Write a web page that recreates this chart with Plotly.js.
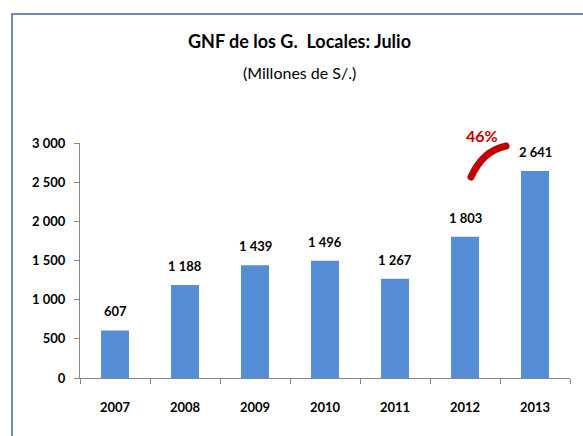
<!DOCTYPE html>
<html>
<head>
<meta charset="utf-8">
<script src="https://cdn.plot.ly/plotly-3.0.1.min.js"></script>
<style>html,body{margin:0;padding:0;background:#fff;}#chart{width:583px;height:436px;}</style>
</head>
<body>
<div id="chart"></div>
<script>
const years = ['2007', '2008', '2009', '2010', '2011', '2012', '2013'];
const values = [607, 1188, 1439, 1496, 1267, 1803, 2641];
const yTicks = [0, 500, 1000, 1500, 2000, 2500, 3000];
const growthLabel = '46%';
const titleText = 'GNF de los G.  Locales: Julio';
const subtitleText = '(Millones de S/.)';

const FONT = 'Lato, "Liberation Sans Narrow", sans-serif';

function fmt(v) {
  if (v >= 1000) return Math.floor(v / 1000) + ' ' + String(v % 1000).padStart(3, '0');
  return String(v);
}

const trace = {
  type: 'bar',
  x: years,
  y: values,
  marker: {color: '#558ED5'},
  hoverinfo: 'x+y'
};

const labelAnns = years.map((yr, i) => ({
  x: i, y: values[i], xref: 'x', yref: 'y',
  text: '<b>' + fmt(values[i]) + '</b>',
  showarrow: false, yanchor: 'middle', yshift: 19,
  font: {family: FONT, size: 13, color: '#000'}
}));

const layout = {
  width: 583, height: 436,
  margin: {l: 80, r: 13, t: 143, b: 58},
  paper_bgcolor: '#fff', plot_bgcolor: '#fff',
  showlegend: false,
  bargap: 0.6,
  font: {family: FONT, size: 13, color: '#000'},
  xaxis: {
    type: 'category',
    range: [-0.5, years.length - 0.5],
    autorange: false,
    showline: true, linecolor: '#868686', linewidth: 1,
    ticks: 'outside', ticklen: 5, tickcolor: '#868686', tickson: 'boundaries',
    tickfont: {family: FONT, size: 13, color: '#000', weight: 'bold'},
    ticklabelstandoff: 17,
    showgrid: false, zeroline: false
  },
  yaxis: {
    range: [0, 3000],
    autorange: false,
    tickvals: yTicks,
    ticktext: yTicks.map(fmt),
    showline: true, linecolor: '#868686', linewidth: 1,
    ticks: 'outside', ticklen: 5, tickcolor: '#868686',
    tickfont: {family: FONT, size: 13, color: '#000', weight: 'bold'},
    ticklabelstandoff: 6,
    showgrid: false, zeroline: false
  },
  annotations: labelAnns.concat([
    {xref: 'paper', yref: 'paper', x: 0.447, y: 1.435, text: '<b>' + titleText + '</b>',
     showarrow: false, xanchor: 'center', yanchor: 'middle',
     font: {family: FONT, size: 18, color: '#000'}},
    {xref: 'paper', yref: 'paper', x: 0.447, y: 1.302, text: subtitleText,
     showarrow: false, xanchor: 'center', yanchor: 'middle',
     font: {family: FONT, size: 16, color: '#000'}},
    {xref: 'paper', yref: 'paper', x: 0.8204, y: 1.034, text: '<b>' + growthLabel + '</b>',
     showarrow: false, xanchor: 'center', yanchor: 'middle',
     font: {family: FONT, size: 16, color: '#C00000'}}
  ]),
  shapes: [
    {type: 'rect', xref: 'paper', yref: 'paper', x0: -0.1388, x1: 1.05, y0: -0.3, y1: 1.549,
     line: {color: '#41669A', width: 1.5}, fillcolor: 'rgba(0,0,0,0)'},
    {type: 'path', xref: 'paper', yref: 'paper',
     path: 'M 0.798 0.8553 Q 0.822 0.967 0.8694 0.9872',
     line: {color: '#C00000', width: 7}}
  ]
};

Plotly.newPlot('chart', [trace], layout, {displayModeBar: false, staticPlot: true}).then(() => {
  document.querySelectorAll('.shapelayer path').forEach(p => p.style.strokeLinecap = 'round');
});
</script>
</body>
</html>
